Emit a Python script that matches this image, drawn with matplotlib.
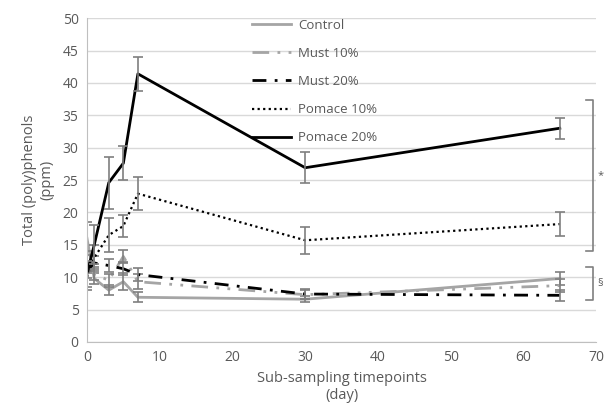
import matplotlib
matplotlib.use("Agg")
import matplotlib.pyplot as plt

days = [0, 1, 3, 5, 7, 30, 65]

control = [16.0, 9.8, 8.0, 9.3, 6.9, 6.6, 9.8]
control_err = [2.5, 0.8, 0.8, 1.3, 0.8, 0.5, 1.0]
must10 = [12.5, 10.5, 9.5, 13.2, 9.3, 7.3, 8.7]
must10_err = [1.5, 1.0, 1.0, 1.0, 1.2, 0.7, 1.0]
must20 = [11.0, 12.2, 11.8, 11.3, 10.4, 7.4, 7.2]
must20_err = [1.2, 1.0, 1.0, 1.0, 1.0, 0.8, 0.8]
pomace10 = [10.0, 13.0, 16.5, 17.9, 22.9, 15.7, 18.2]
pomace10_err = [2.0, 2.0, 2.6, 1.65, 2.6, 2.1, 1.9]
pomace20 = [10.5, 15.0, 24.6, 27.6, 41.4, 26.9, 33.0]
pomace20_err = [2.0, 3.0, 4.0, 2.6, 2.6, 2.4, 1.6]

labels = ["Control", "Must 10%", "Must 20%", "Pomace 10%", "Pomace 20%"]

text_col = "#595959"
plt.rcParams["font.family"] = ["Open Sans", "DejaVu Sans"]

fig = plt.figure(figsize=(6.04, 4.12), dpi=100)
ax = fig.add_axes([0.144, 0.170, 0.843, 0.786])

styles = [
    dict(color="#a5a5a5", ls="-", lw=2),
    dict(color="#a5a5a5", ls=(0, (6, 3, 1, 3, 1, 3)), lw=2),
    dict(color="black", ls=(0, (5, 3, 1, 3)), lw=2),
    dict(color="black", ls=(0, (1, 1.5)), lw=1.6),
    dict(color="black", ls="-", lw=2),
]
series = [(control, control_err), (must10, must10_err), (must20, must20_err),
          (pomace10, pomace10_err), (pomace20, pomace20_err)]

for (ys, err), st, lbl in zip(series, styles, labels):
    ax.plot(days, ys, label=lbl, **st)
    ax.errorbar(days, ys, yerr=err, fmt="none", ecolor="#7f7f7f",
                elinewidth=1.2, capsize=3.5, capthick=1.2)

ax.set_xlim(0, 70)
ax.set_ylim(0, 50)
ax.set_xticks(range(0, 71, 10))
ax.set_yticks(range(0, 51, 5))
ax.grid(axis="y", color="#d9d9d9", lw=1)
ax.set_axisbelow(True)
for s in ["top", "right"]:
    ax.spines[s].set_visible(False)
for s in ["left", "bottom"]:
    ax.spines[s].set_color("#bfbfbf")
ax.tick_params(length=0, colors=text_col, labelsize=10, pad=6)

ax.set_xlabel("Sub-sampling timepoints\n(day)", color=text_col, fontsize=10.5,
              labelpad=4)
ax.set_ylabel("Total (poly)phenols\n(ppm)", color=text_col, fontsize=10.5,
              labelpad=6)

leg = ax.legend(loc="upper left", bbox_to_anchor=(0.3, 1.035), frameon=False,
                fontsize=9.5, labelspacing=1.15, handlelength=3.0,
                handletextpad=0.5)
for t in leg.get_texts():
    t.set_color(text_col)

# significance brackets
bcol = "#7f7f7f"
for y0, y1, mark in [(14.0, 37.3, "*"), (6.5, 11.6, "§")]:
    ax.plot([68.6, 69.6, 69.6, 68.6], [y1, y1, y0, y0], color=bcol, lw=1.2,
            clip_on=False)
    ax.text(70.2, (y0 + y1) / 2, mark, color=text_col, fontsize=8,
            va="center", ha="left", clip_on=False)

fig.savefig("out.png", dpi=100)
